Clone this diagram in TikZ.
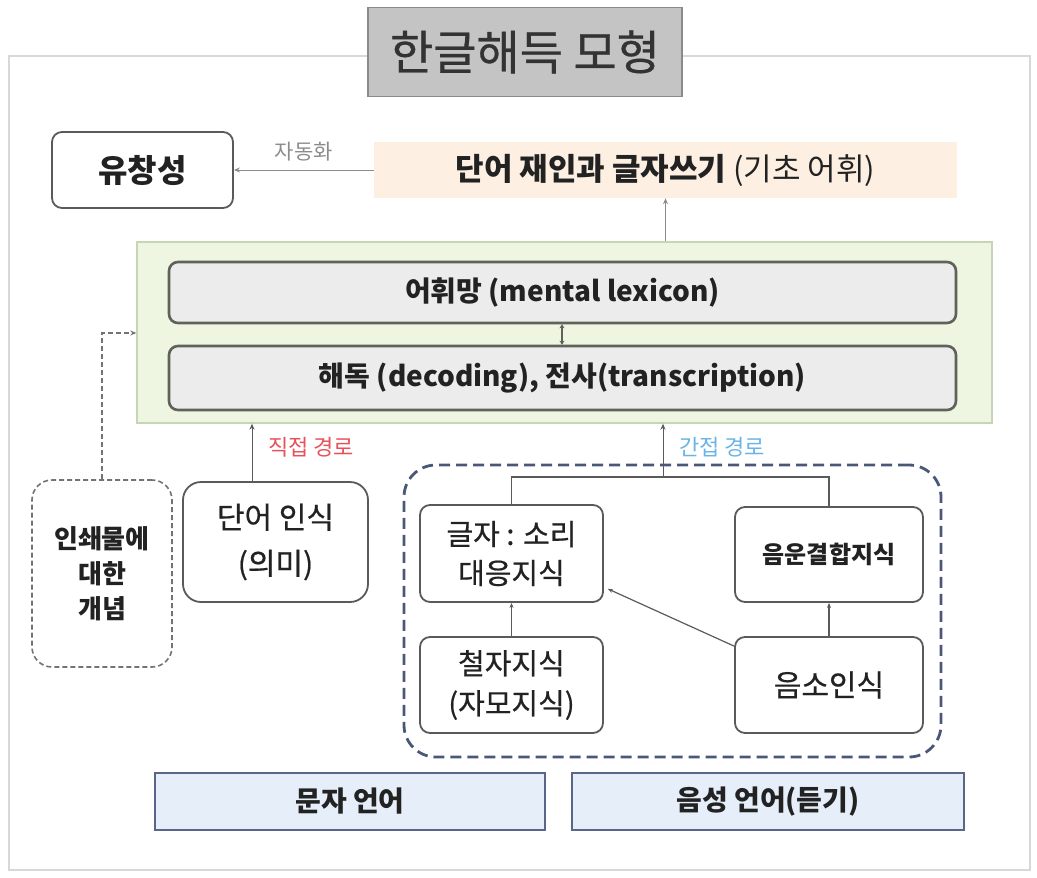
\documentclass[tikz,border=0pt]{standalone}
\usepackage{fontspec}
\setmainfont{Noto Sans CJK KR}
\newfontfamily\medfont{Noto Sans CJK KR}[FakeBold=0.6]
\usetikzlibrary{arrows.meta,calc}
\definecolor{framec}{HTML}{D8D8D8}
\definecolor{titlefill}{HTML}{C4C4C4}
\definecolor{titledraw}{HTML}{8A8A8A}
\definecolor{peach}{HTML}{FDF0E2}
\definecolor{greenfill}{HTML}{EEF6E2}
\definecolor{greendraw}{HTML}{C4D6B4}
\definecolor{lexfill}{HTML}{ECECEC}
\definecolor{lexdraw}{HTML}{5E6258}
\definecolor{boxdraw}{HTML}{5A5A5A}
\definecolor{bluedash}{HTML}{4A5878}
\definecolor{langfill}{HTML}{E6EEFA}
\definecolor{langdraw}{HTML}{5A6688}
\definecolor{redlab}{HTML}{E8505A}
\definecolor{bluelab}{HTML}{6AB4E6}
\definecolor{txt}{HTML}{222222}
\definecolor{arrowc}{HTML}{8C8C8C}
\begin{document}
\begin{tikzpicture}[x=1pt,y=-1pt,
  every node/.style={text=txt, inner sep=0pt},
  fs/.style n args={2}{font=\fontsize{#1}{#2}\selectfont},
  whitebox/.style={draw=boxdraw, line width=1.8pt, rounded corners=10pt, fill=white, align=center},
  lexbox/.style={draw=lexdraw, line width=2.6pt, rounded corners=9pt, fill=lexfill, minimum width=787pt, minimum height=61pt},
  langbox/.style={draw=langdraw, line width=2.4pt, fill=langfill, minimum height=57pt},
  arr/.style={draw=arrowc, line width=1pt, -{Stealth[length=6pt,width=5pt]}},
  darr/.style={draw=boxdraw, line width=1.2pt, -{Stealth[length=5pt,width=4pt]}}
]
\useasboundingbox (0,0) rectangle (1037,878);
\draw[framec, line width=1.2pt] (9,56) rectangle (1030,870);

% title
\node[fill=titlefill, draw=titledraw, line width=1.2pt, minimum width=314pt, minimum height=89pt, fs={47}{50}, text=black!80] (title) at (525,52) {\medfont 한글해득 모형};

% top row
\node[whitebox, minimum width=181pt, minimum height=76pt, fs={32}{36}] (fluency) at (142.5,170) {\bfseries 유창성};
\node[fill=peach, minimum width=583pt, minimum height=56pt, fs={31}{34}] (recog) at (665.5,170) {{\bfseries 단어 재인과 글자쓰기}\ (기초 어휘)};
\draw[arr] (recog.west) -- node[above=8pt, fs={21}{24}, text=arrowc] (auto) {자동화} (fluency.east);

% green block
\node[fill=greenfill, draw=greendraw, line width=1.4pt, minimum width=855pt, minimum height=181pt] (green) at (564.5,332.5) {};
\node[lexbox, fs={28}{32}] (lex) at (562.5,292.5) {\bfseries 어휘망 (mental lexicon)};
\node[lexbox, minimum height=64pt, fs={28}{32}] (dec) at (562.5,378) {\bfseries 해독 (decoding), 전사(transcription)};
\draw[draw=lexdraw, line width=2pt, {Stealth[length=4pt,width=5pt]}-{Stealth[length=4pt,width=5pt]}] (lex.south -| 562,0) -- (dec.north -| 562,0);
\draw[arr] (green.north -| recog.south) -- (recog.south);

% print concept
\node[whitebox, dashed, draw=black!55, line width=1.6pt, dash pattern=on 5pt off 3pt, rounded corners=20pt, minimum width=140pt, minimum height=187pt, fs={26}{35}] (print) at (102,573.5) {\bfseries 인쇄물에\\\bfseries 대한\\\bfseries 개념};
\coordinate (bend) at (print.north |- 0,333);
\draw[draw=black!55, line width=1.4pt, dash pattern=on 5pt off 3pt, -{Stealth[length=6pt,width=5pt]}] (print.north) -- (bend) -- (bend -| green.west);

% word recognition (direct)
\node[whitebox, rounded corners=18pt, minimum width=185pt, minimum height=120pt, fs={30}{46}] (word) at (275.5,542) {\medfont 단어 인식\\\medfont (의미)};
\draw[arr, draw=boxdraw] (word.north -| 252,0) -- (green.south -| 252,0);
\node[fs={22}{24}, text=redlab] (direct) at (311,447) {직접 경로};

% indirect block
\node[draw=bluedash, line width=2.8pt, dash pattern=on 11pt off 6pt, rounded corners=32pt, minimum width=537pt, minimum height=292pt] (ind) at (672.5,611) {};
\node[fs={22}{24}, text=bluelab] (indirect) at (722,447) {간접 경로};
\coordinate (jn) at (663,477);
\draw[arr, draw=boxdraw] (jn) -- (green.south -| jn);

\node[whitebox, minimum width=183pt, minimum height=97pt, fs={29}{39}] (gs) at (511.5,553.5) {\medfont 글자 : 소리\\\medfont 대응지식};
\node[whitebox, minimum width=183pt, minimum height=96pt, fs={29}{40}] (spell) at (511.5,685) {\medfont 철자지식\\\medfont (자모지식)};
\node[whitebox, minimum width=188pt, minimum height=95pt, fs={24}{28}] (blend) at (829,554.5) {\bfseries 음운결합지식};
\node[whitebox, minimum width=188pt, minimum height=96pt, fs={30}{34}] (phon) at (829,685) {\medfont 음소인식};

\draw[draw=boxdraw, line width=1.2pt] (gs.north) -- (gs.north |- jn) -- (blend.north |- jn) -- (blend.north);
\draw[darr] (spell.north) -- (gs.south);
\draw[darr] (phon.north) -- (blend.south);
\draw[darr] ($(phon.north west)+(0,10)$) -- ($(gs.south east)+(4,-14)$);

% language boxes
\node[langbox, minimum width=390pt, fs={28}{32}] (written) at (350,801.5) {\bfseries 문자 언어};
\node[langbox, minimum width=392pt, fs={28}{32}] (spoken) at (768,801.5) {\bfseries 음성 언어(듣기)};
\end{tikzpicture}
\end{document}
